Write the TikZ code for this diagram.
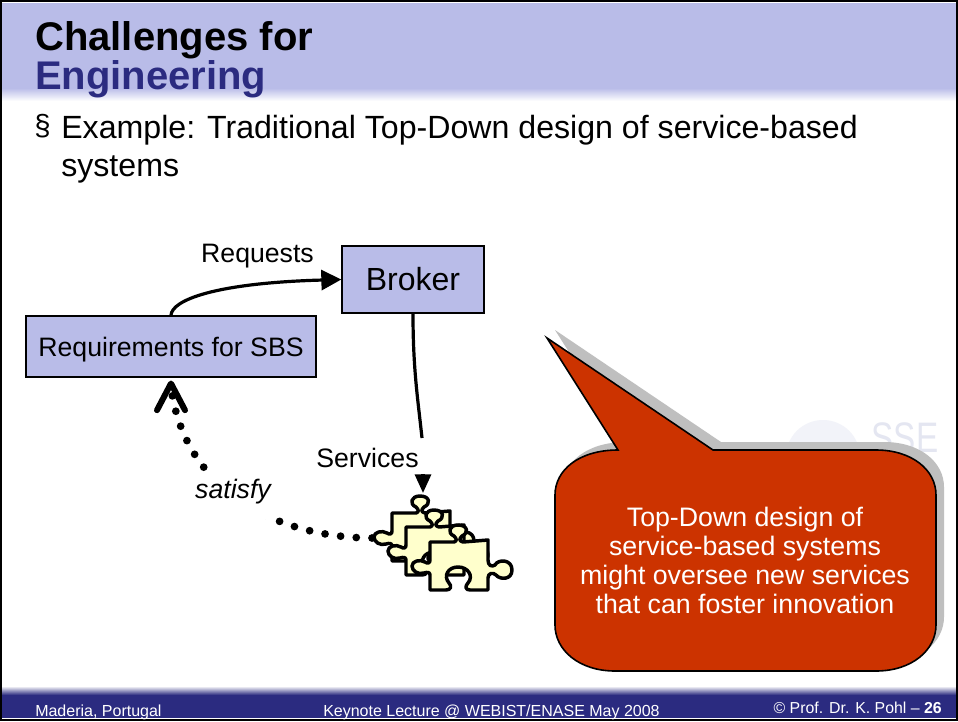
\documentclass[tikz,border=0pt]{standalone}
\usepackage{fontspec}
\setmainfont{Liberation Sans}
\usepackage{tikz}
\usetikzlibrary{arrows.meta, positioning, calc}
\definecolor{bandblue}{HTML}{B9BCE8}
\definecolor{footblue}{HTML}{2B2B80}
\definecolor{calloutred}{HTML}{CC3300}
\definecolor{piecefill}{HTML}{FFFFCC}
\definecolor{markgray}{HTML}{E4E6F1}
\definecolor{markpale}{HTML}{F2F3F9}
\tikzset{
	box/.style={rectangle, draw, fill=bandblue, line width=1.5pt, inner sep=0pt},
	conn/.style={line width=2.4pt},
	pics/piece/.style={code={
		\draw[fill=piecefill, line width=2.6pt, line join=round] (0,0) -- (24,0) .. controls (27,-1) and (27,-3) .. (24,-6) .. controls (17,-9) and (19,-17) .. (28,-17) .. controls (38,-17) and (39,-9) .. (32,-6) .. controls (29,-3) and (29,-1) .. (33,0) -- (58,-2) -- (58,18) .. controls (58,24) and (62,25) .. (65,23) .. controls (68,17) and (82,17) .. (82,28) .. controls (82,38) and (70,38) .. (66,33) .. controls (63,30) and (58,31) .. (58,36) -- (58,48) -- (40,48) .. controls (35,48) and (35,44) .. (38,41) .. controls (44,34) and (38,25) .. (28,25) .. controls (18,25) and (13,34) .. (19,41) .. controls (22,44) and (21,48) .. (16,48) -- (0,48) -- (0,33) .. controls (0,30) and (-3,30) .. (-6,31) .. controls (-12,33) and (-18,29) .. (-18,24) .. controls (-18,19) and (-10,17) .. (-5,20) .. controls (-2,22) and (0,21) .. (0,18) -- cycle;
	}}
}
\newcommand{\calloutpath}{(547,338) -- (713,450) -- (876,450) .. controls (912,450) and (936,470) .. (936,495) -- (936,625) .. controls (936,650) and (912,671) .. (876,671) -- (615,671) .. controls (579,671) and (555,650) .. (555,625) -- (555,495) .. controls (555,470) and (579,450) .. (618,450) -- cycle}
\begin{document}
\begin{tikzpicture}[x=0.75pt, y=-0.75pt]
	\useasboundingbox (0,0) rectangle (958,722);
	\fill[white] (0,0) rectangle (958,722);
	\fill[bandblue] (0,3) rectangle (958,88);
	\shade[top color=bandblue, bottom color=white] (0,88) rectangle (958,101);
	\shade[top color=white, bottom color=footblue] (0,686) rectangle (958,695);
	\fill[footblue] (0,695) rectangle (958,718);
	\draw[line width=1.5pt] (0.5,1) -- (957,1) -- (957,719.5) -- (0.5,719.5) -- cycle;
	\fill[markpale] (823,457) circle (37);
	\node[anchor=center, inner sep=0pt, xscale=0.78, text=markgray, font=\fontsize{32}{32}\selectfont] (mark) at (905,438) {SSE};

	\node[anchor=base west, inner sep=0pt, font=\bfseries\fontsize{30}{30}\selectfont] (title) at (35,50) {Challenges for};
	\node[anchor=base west, inner sep=0pt, text=footblue, font=\bfseries\fontsize{30}{30}\selectfont] (subtitle) at (35,89) {Engineering};
	\node[anchor=base west, inner sep=0pt, font=\fontsize{22}{22}\selectfont] (bullet) at (34,135.5) {§};
	\node[anchor=base west, inner sep=0pt, font=\fontsize{24.1}{24.1}\selectfont] (line1) at (61,138) {Example: Traditional Top-Down design of service-based};
	\node[anchor=base west, inner sep=0pt, font=\fontsize{24.1}{24.1}\selectfont] (line2) at (61,176) {systems};

	\node[box, minimum width=106pt, minimum height=50pt, font=\fontsize{24}{24}\selectfont] (broker) at (413,279.5) {Broker};
	\node[box, minimum width=217pt, minimum height=45.5pt, text depth=0pt, font=\fontsize{20}{20}\selectfont] (reqs) at (171,346.5) {Requirements for SBS};
	\node[anchor=base, inner sep=0pt, font=\fontsize{20}{20}\selectfont] (requests) at (257.5,262) {Requests};
	\node[anchor=base, inner sep=0pt, font=\fontsize{20}{20}\selectfont] (services) at (367.5,467) {Services};

	\pic at (392,513) {piece};
	\pic at (406,527) {piece};
	\pic at (430,542) {piece};
	\coordinate (tabtop) at (423,493);
	\coordinate (tableft) at (372,538);
	\coordinate (cut) at (422,438);
	\coordinate (headstart) at (423,474);
	\coordinate (bend) at (176,412);

	\draw[conn, -{Triangle[length=15pt, width=15pt]}] (reqs.north) .. controls (172,300) and (215,283) .. (broker.west);
	\draw[conn] (broker.south) .. controls (413,370) and (418,400) .. (cut);
	\draw[conn, -{Triangle[length=14pt, width=12pt]}] (headstart) -- (tabtop);
	\draw[line width=5.8pt, line cap=round, dash pattern=on 0pt off 11.8pt, shorten >=2pt, -{Straight Barb[length=20pt, width=21pt, round, line width=4.5pt]}] (tableft) .. controls (295,538) and (202,505) .. (bend) .. controls (174,402) and (171,392) .. (reqs.south);
	\node[anchor=base, fill=white, inner xsep=2pt, inner ysep=0pt, text height=17pt, text depth=16pt, font=\itshape\fontsize{20}{20}\selectfont] (satisfy) at (233,498) {satisfy};

	\fill[gray!50, shift={(8,-8)}] \calloutpath;
	\draw[fill=calloutred, line width=1.2pt, line join=miter] \calloutpath;
	\node[align=center, text=white, inner sep=0pt, font=\fontsize{20.05}{21.8}\selectfont] (callouttext) at (745,560.5) {Top-Down design of\\service-based systems\\might oversee new services\\that can foster innovation};

	\node[anchor=base west, inner sep=0pt, text=white, font=\fontsize{12}{12}\selectfont] (footleft) at (35,716) {Maderia, Portugal};
	\node[anchor=base west, inner sep=0pt, text=white, font=\fontsize{12}{12}\selectfont] (footmid) at (323,716) {Keynote Lecture @ WEBIST/ENASE May 2008};
	\node[anchor=base east, inner sep=0pt, text=white, font=\fontsize{11.9}{11.9}\selectfont] (footright) at (942,713) {© Prof. Dr. K. Pohl – \textbf{26}};
\end{tikzpicture}
\end{document}
